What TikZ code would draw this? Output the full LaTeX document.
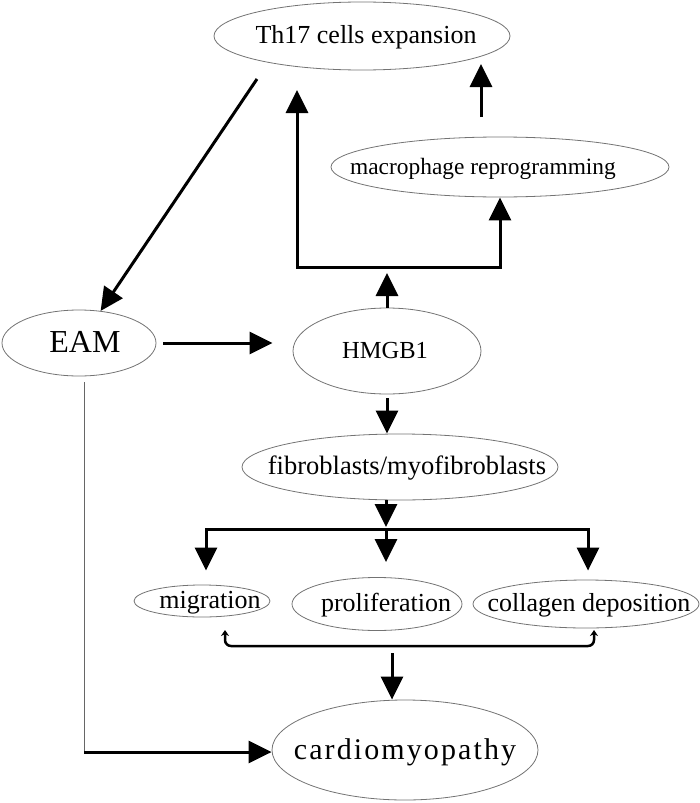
\documentclass[tikz,border=0pt]{standalone}
\usepackage{fontspec}
\setmainfont{Liberation Serif}
\usetikzlibrary{arrows.meta,shapes.geometric}
\newcommand\lbl[3]{{\fontsize{#1}{#1}\selectfont\smash{\makebox[0pt]{\hspace*{#2}\hspace*{#2}\raisebox{-0.3em}{#3}}}}}
\begin{document}
\begin{tikzpicture}[x=1pt,y=-1pt,
  oval/.style={ellipse, draw=black!55, line width=0.8pt, inner sep=0pt},
  arr/.style={line width=3pt, -{Triangle[length=23pt,width=22pt]}},
  arrtwo/.style={line width=3pt, {Triangle[length=23pt,width=22pt]}-{Triangle[length=23pt,width=22pt]}},
  brk/.style={line width=2.5pt, {Stealth[length=6pt,width=8pt]}-{Stealth[length=6pt,width=8pt]}},
  thinline/.style={draw=black!60, line width=0.8pt}]
\useasboundingbox (0,0) rectangle (700,803);

\node[oval, minimum width=296pt, minimum height=68pt] (th17) at (362,36) {\lbl{26pt}{4pt}{Th17 cells expansion}};
\node[oval, minimum width=338pt, minimum height=60pt] (mac) at (500,167) {\lbl{23.4pt}{-17pt}{macrophage reprogramming}};
\node[oval, minimum width=154pt, minimum height=66pt] (eam) at (79,343) {\lbl{32pt}{6pt}{EAM}};
\node[oval, minimum width=188pt, minimum height=86pt] (hmgb) at (387,351) {\lbl{24.5pt}{-2pt}{HMGB1}};
\node[oval, minimum width=316pt, minimum height=66pt] (fib) at (400,467) {\lbl{26.5pt}{7pt}{fibroblasts/myofibroblasts}};
\node[oval, minimum width=136pt, minimum height=32pt] (mig) at (202,601) {\lbl{26pt}{8pt}{migration}};
\node[oval, minimum width=170pt, minimum height=53pt] (pro) at (377,604) {\lbl{26pt}{9pt}{proliferation}};
\node[oval, minimum width=226pt, minimum height=48pt] (col) at (586,604) {\lbl{26pt}{3pt}{collagen deposition}};
\node[oval, minimum width=266pt, minimum height=100pt] (car) at (405,750) {\lbl{30pt}{0pt}{\addfontfeature{LetterSpace=7}cardiomyopathy}};

% Th17 -> EAM
\coordinate (d1) at (257,79);
\draw[arr] (d1) -- (eam);

% HMGB1 up to the branch
\coordinate (t1) at (297,90);
\coordinate (bl) at (297,267);
\coordinate (br) at (500,267);
\draw[arrtwo] (t1) -- (bl) -- (br) -- (mac);
\draw[arr, shorten >=6pt] (hmgb.north) -- (hmgb.north |- bl);

% macrophage -> Th17
\coordinate (m1) at (481,117);
\coordinate (m2) at (481,64);
\draw[arr] (m1) -- (m2);

% EAM -> HMGB1
\draw[arr, shorten <=7pt, shorten >=20pt] (eam.east) -- (eam.east -| hmgb.west);

% HMGB1 -> fibroblasts
\draw[arr, shorten <=4pt] (hmgb.south) -- (hmgb.south |- fib.north);

% fibroblasts -> three effects
\coordinate (bL) at (206,529);
\coordinate (bM) at (386,529);
\coordinate (bR) at (588,529);
\draw[arrtwo, shorten <=14pt, shorten >=9pt] (bL |- mig.north) -- (bL) -- (bR) -- (bR |- col.north);
\draw[arr] (fib.south -| bM) -- ([yshift=2pt]bM);
\draw[arr, shorten >=15pt] (bM) -- (bM |- pro.north);

% bracket
\coordinate (k1) at (225,630);
\coordinate (k2) at (594,630);
\draw[brk, rounded corners=6pt] (k1) -- ++(0,16) -- ++(369,0) -- (k2);

% -> cardiomyopathy
\coordinate (c1) at (392,653);
\draw[arr] (c1) -- (c1 |- car.north);

% EAM -> cardiomyopathy
\coordinate (v0) at (84,382);
\coordinate (v1) at (84,752);
\draw[thinline] (v0) -- (v1);
\draw[arr] (v1) -- (v1 -| car.west);
\end{tikzpicture}
\end{document}
